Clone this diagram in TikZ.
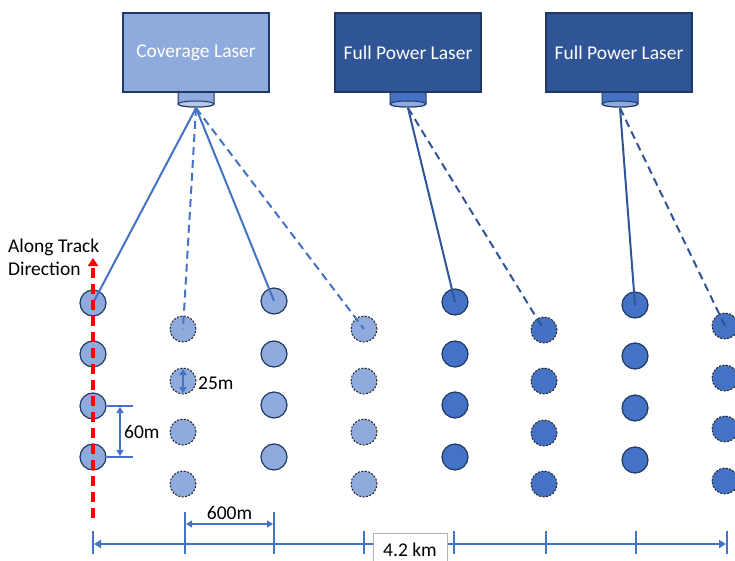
\documentclass[tikz,border=0pt]{standalone}
\usepackage{fontspec}
\setmainfont{Carlito}
\usetikzlibrary{arrows.meta}
\definecolor{covfill}{HTML}{8FAADC}
\definecolor{fpfill}{HTML}{2F5597}
\definecolor{midblue}{HTML}{4472C4}
\definecolor{navy}{HTML}{203864}
\definecolor{lightlens}{HTML}{B4C7E7}
\tikzset{
  laserbox/.style={draw=navy, line width=1.2pt, minimum width=146pt, minimum height=79pt, text=white, font=\fontsize{19.5}{23}\selectfont, inner sep=0pt},
  spot/.style={circle, draw=navy, line width=1.2pt, minimum size=26pt, inner sep=0pt},
  dspot/.style={circle, draw=black!85, dash pattern=on 2pt off 1.5pt, line width=1pt, minimum size=26pt, inner sep=0pt},
  lens/.style={draw=navy, line width=1pt},
  covbeam/.style={draw=midblue, line width=2pt},
  fpbeam/.style={draw=fpfill, line width=2pt},
  dbeam/.style={dash pattern=on 8pt off 5pt},
  dimline/.style={draw=midblue, line width=2pt},
  dimarrow/.style={midblue, line width=1.5pt, {Triangle[length=6pt,width=7pt]}-{Triangle[length=6pt,width=7pt]}},
  lbl/.style={font=\fontsize{19.5}{23}\selectfont, inner sep=0pt},
}
\newcommand{\lensat}[3]{% x, fill, bottom fill
  \draw[lens, fill=#2] (#1-18,93) .. controls (#1-18,89) and (#1+18,89) .. (#1+18,93) -- (#1+18,104) .. controls (#1+18,108) and (#1-18,108) .. (#1-18,104) -- cycle;
  \draw[lens, fill=#3] (#1,104) ellipse [x radius=18, y radius=3];
}
\begin{document}
\begin{tikzpicture}[x=1pt,y=-1pt]
\useasboundingbox (0,0) rectangle (735,561);
% lenses
\lensat{196}{covfill}{lightlens}
\lensat{408}{midblue}{covfill}
\lensat{620}{midblue}{covfill}
\coordinate (covlens) at (196,108);
\coordinate (fp1lens) at (408,108);
\coordinate (fp2lens) at (620,108);
% boxes
\node[laserbox, fill=covfill] (cov) at (196,52.5) {Coverage Laser};
\node[laserbox, fill=fpfill] (fp1) at (408,52.5) {Full Power Laser};
\node[laserbox, fill=fpfill] (fp2) at (619,52.5) {Full Power Laser};
% spots
\foreach \y [count=\i] in {303,354,406,457} \node[spot, fill=covfill] (a\i) at (93,\y) {};
\foreach \y [count=\i] in {329,381,432,484} \node[dspot, fill=covfill] (b\i) at (183,\y) {};
\foreach \y [count=\i] in {301,354,405,457} \node[spot, fill=covfill] (c\i) at (274,\y) {};
\foreach \y [count=\i] in {329,381,432,484} \node[dspot, fill=covfill] (d\i) at (364,\y) {};
\foreach \y [count=\i] in {302,354,405,457} \node[spot, fill=midblue] (e\i) at (455,\y) {};
\foreach \y [count=\i] in {330,381,433,484} \node[dspot, fill=midblue] (f\i) at (544,\y) {};
\foreach \y [count=\i] in {305,356,408,460} \node[spot, fill=midblue] (g\i) at (635,\y) {};
\foreach \y [count=\i] in {326,378,429,481} \node[dspot, fill=midblue] (h\i) at (725,\y) {};
% beams
\draw[covbeam] (covlens) -- (a1.center);
\draw[covbeam, dbeam] (covlens) -- (b1.center);
\draw[covbeam] (covlens) -- (c1.center);
\draw[covbeam, dbeam] (covlens) -- (d1.center);
\draw[fpbeam] (fp1lens) -- (e1.center);
\draw[fpbeam, dbeam] (fp1lens) -- (f1.center);
\draw[fpbeam] (fp2lens) -- (g1.center);
\draw[fpbeam, dbeam] (fp2lens) -- (h1.center);
% along track arrow
\coordinate (trackbot) at (93,518);
\coordinate (tracktop) at (93,258);
\draw[red, line width=3.5pt, dash pattern=on 10pt off 6pt, -{Triangle[length=8pt,width=10pt]}] (trackbot) -- (tracktop);
\node[lbl, anchor=west, align=left] (track) at (8,257) {Along Track\\Direction};
% 60m dimension
\coordinate (s1) at (107,406); \coordinate (s1e) at (133,406);
\coordinate (s2) at (107,457); \coordinate (s2e) at (133,457);
\draw[midblue, line width=1.5pt] (s1) -- (s1e);
\draw[midblue, line width=1.5pt] (s2) -- (s2e);
\coordinate (s1m) at (120,407); \coordinate (s2m) at (120,456);
\draw[dimarrow] (s1m) -- (s2m);
\node[lbl, anchor=west] (sixty) at (124,432) {60m};
% 25m
\coordinate (b2t) at (183,369); \coordinate (b2b) at (183,393);
\draw[dimarrow] (b2t) -- (b2b);
\node[lbl, anchor=west] (tfive) at (198,383) {25m};
% 600m
\coordinate (t1a) at (185,512); \coordinate (t1b) at (185,531);
\coordinate (t2a) at (274,512); \coordinate (t2b) at (274,531);
\draw[dimline] (t1a) -- (t1b);
\draw[dimline] (t2a) -- (t2b);
\coordinate (t1m) at (186,524); \coordinate (t2m) at (273,524);
\draw[dimarrow] (t1m) -- (t2m);
\node[lbl] (sixh) at (229.5,513) {600m};
% axis
\coordinate (ax0) at (94,544); \coordinate (ax7) at (726,544);
\draw[dimline, {Triangle[length=7pt,width=8pt]}-{Triangle[length=7pt,width=8pt]}] (ax0) -- (ax7);
\foreach \x [count=\i] in {93,185,274,364,454,546,636,727} {
  \coordinate (tk\i a) at (\x,531); \coordinate (tk\i b) at (\x,554);
  \draw[dimline] (tk\i a) -- (tk\i b);
}
\node[draw=black!30, fill=white, line width=0.6pt, minimum width=74pt, minimum height=33pt, anchor=north, font=\fontsize{19.5}{23}\selectfont, inner sep=0pt] (km) at (410,533) {4.2 km};
\end{tikzpicture}
\end{document}
